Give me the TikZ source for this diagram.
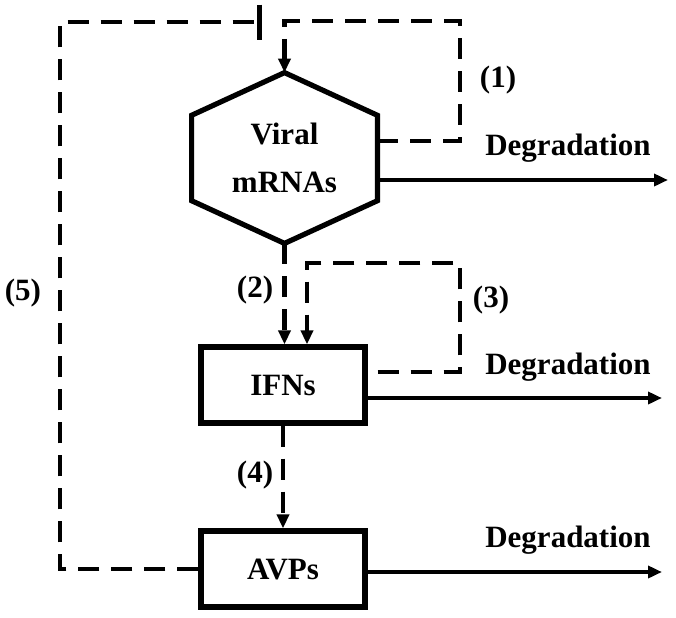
\documentclass[tikz,border=0pt]{standalone}
\usepackage{fontspec}
\setmainfont{Liberation Serif}
\usepackage{tikz}
\usetikzlibrary{calc,arrows.meta}
\tikzset{>={Triangle[length=7pt,width=6pt]}}

\begin{document}
\begin{tikzpicture}[x=0.5pt,y=-0.5pt,
    font=\fontsize{15.5}{24}\selectfont\bfseries,
    box/.style={draw,line width=2.6pt,minimum width=82pt,minimum height=38pt,inner sep=0pt},
    dashline/.style={line width=2.3pt,dash pattern=on 10.5pt off 6pt},
    flow/.style={line width=2.2pt,->}]
    \useasboundingbox (0,0) rectangle (676,617);
    \node[minimum width=92.5pt,minimum height=85pt,inner sep=0pt,align=center] (mrna) at (284.5,158) {Viral\\mRNAs};
    \draw[line width=2.6pt] (mrna.north)
        -- ($(mrna.north east)!0.25!(mrna.south east)$)
        -- ($(mrna.north east)!0.75!(mrna.south east)$)
        -- (mrna.south)
        -- ($(mrna.north west)!0.75!(mrna.south west)$)
        -- ($(mrna.north west)!0.25!(mrna.south west)$) -- cycle;
    \node[box] (ifn) at (283,385) {IFNs};
    \node[box] (avp) at (283,569) {AVPs};
    \node (deg1) at (568,148) {Degradation};
    \node (deg2) at (568,367) {Degradation};
    \node (deg3) at (568,540) {Degradation};
    \coordinate (end1) at (668,180);
    \coordinate (end2) at (662,398);
    \coordinate (end3) at (662,572);
    \draw[flow] (mrna.east |- end1) -- (end1);
    \draw[flow] (ifn.east |- end2) -- (end2);
    \draw[flow] (avp.east |- end3) -- (end3);
    \coordinate (top1) at (460,21);
    \draw[dashline,->] (mrna.east |- 0,141) -| (top1) -| (mrna.north);
    \draw[dashline,->] (mrna.south) -- (mrna.south |- ifn.north);
    \coordinate (top3) at (460,263);
    \draw[dashline,->] ($(ifn.east)+(10,-13)$) -| (top3) -| ($(ifn.north)+(24,0)$);
    \draw[dashline,->] (ifn.south) -- (avp.north);
    \coordinate (corner5) at (60,22);
    \coordinate (bar5) at (262,22);
    \draw[dashline,-{Bar[width=17.5pt]}] (avp.west) -| (corner5) -- (bar5);
    \node (lab1) at (498,80) {(1)};
    \node (lab2) at (255,290) {(2)};
    \node (lab3) at (491,300) {(3)};
    \node (lab4) at (255,475) {(4)};
    \node (lab5) at (23,293) {(5)};
\end{tikzpicture}
\end{document}
